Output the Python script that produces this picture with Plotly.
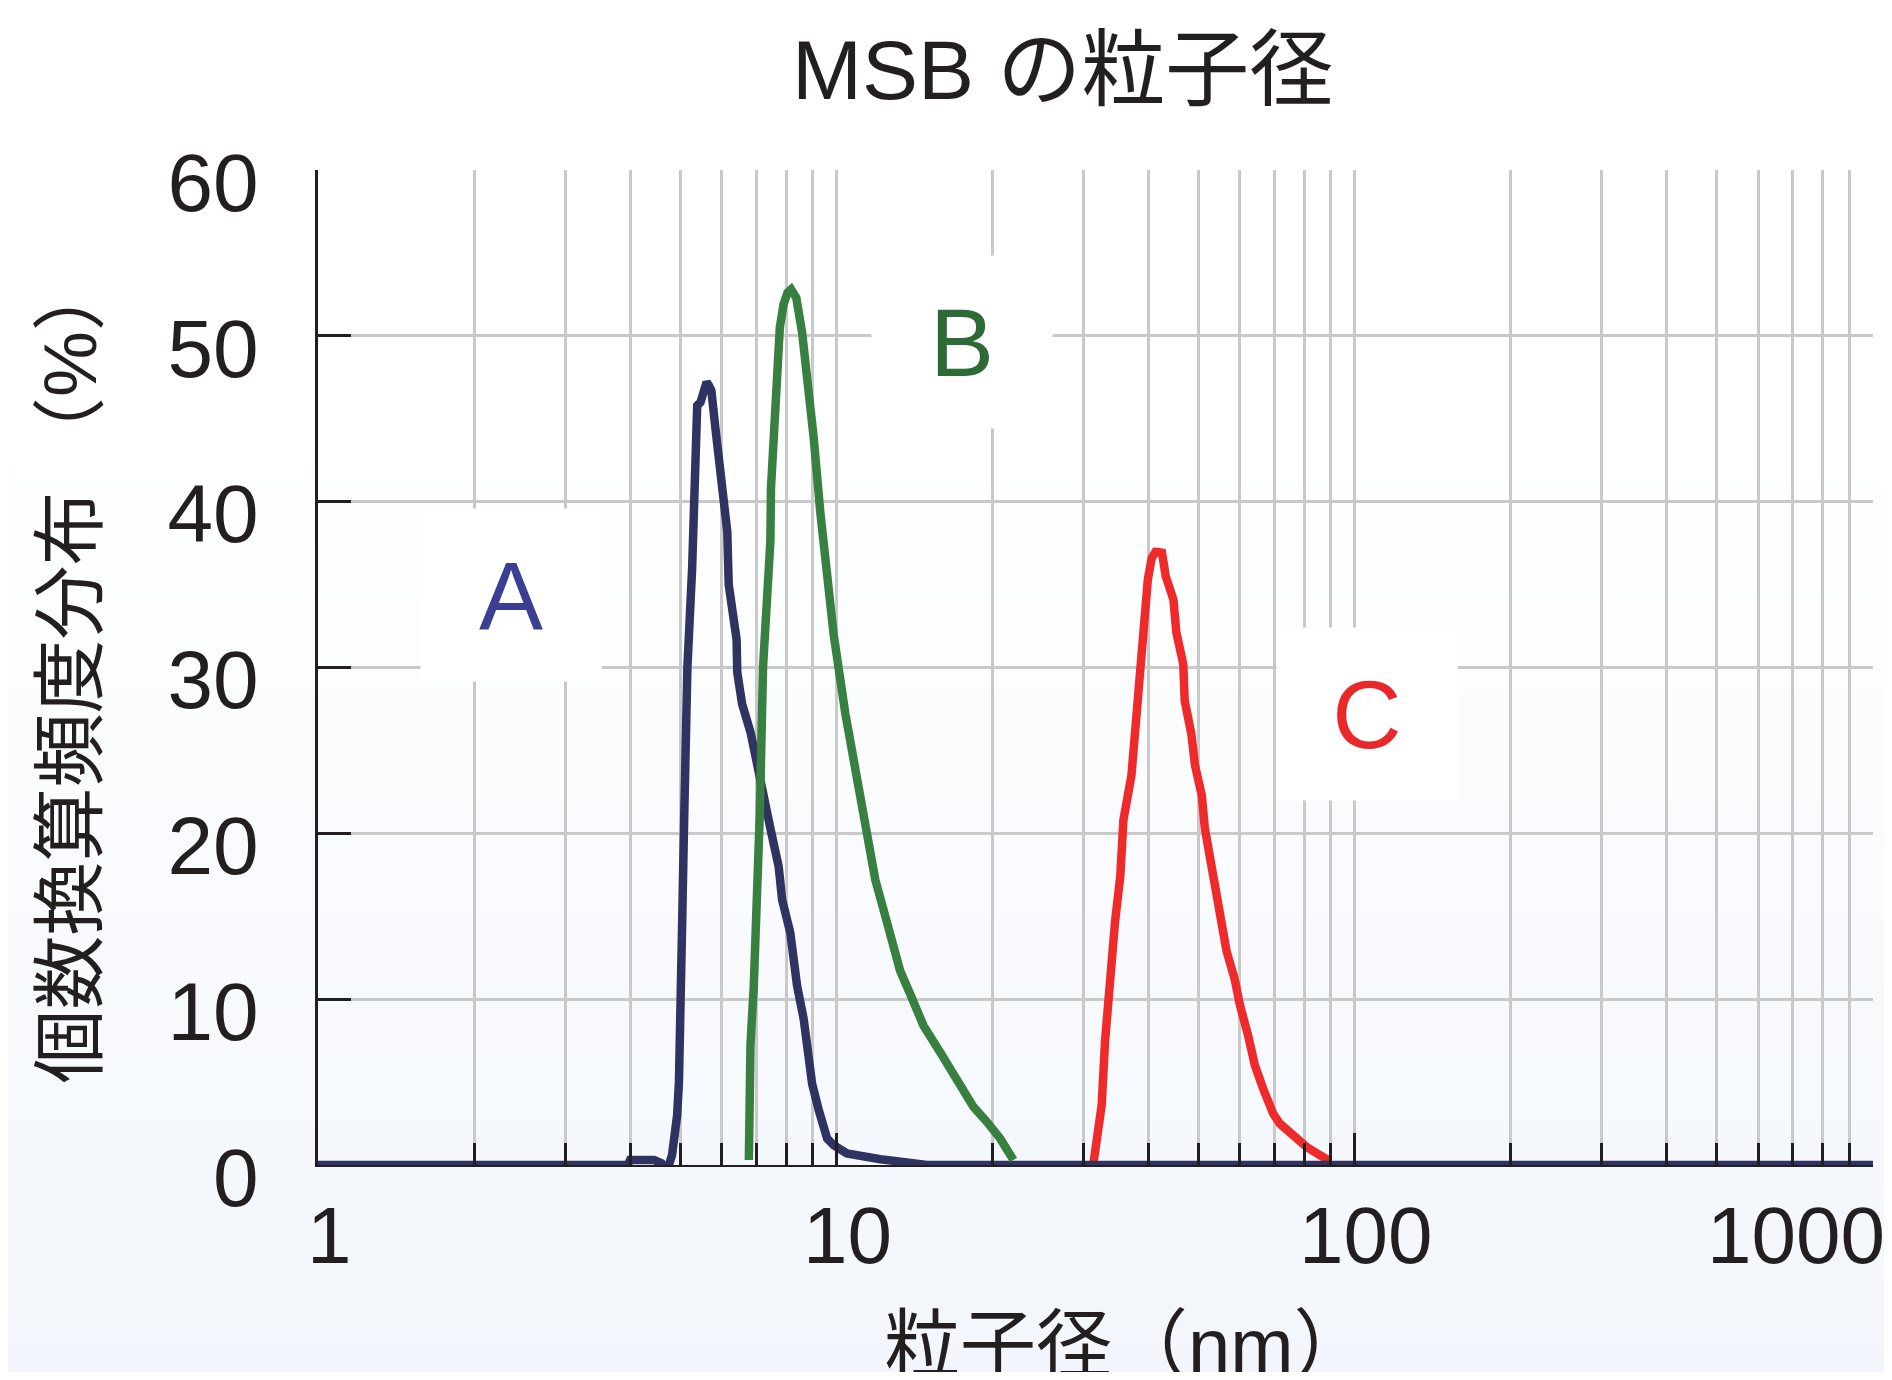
import numpy as np
import plotly.graph_objects as go

# ---------------- data ----------------
a_x = [1.0, 3.51, 3.96, 4.0, 4.45, 4.6, 4.72, 4.82, 4.93, 4.97, 5.01, 5.04, 5.08, 5.16, 5.27,
       5.35, 5.39, 5.47, 5.53, 5.62, 5.68, 5.74, 5.85, 6.02, 6.16, 6.20, 6.30, 6.42, 6.44, 6.58,
       6.83, 7.14, 7.46, 7.74, 7.86, 8.15, 8.40, 8.65, 8.98, 9.25, 9.60, 9.88, 10.48, 12.16,
       14.95, 100.0, 1000.0]
a_y = [0.0, 0.0, 0.0, 0.3, 0.3, 0.1, -0.3, 0.6, 3.0, 5.0, 8.5, 14.4, 20.0, 30.0, 36.0,
       41.8, 45.8, 46.0, 46.7, 47.2, 47.0, 46.7, 44.3, 40.5, 38.2, 35.0, 33.3, 31.7, 29.7, 27.8,
       26.1, 22.9, 20.3, 18.0, 16.0, 14.0, 10.8, 8.8, 4.9, 3.3, 1.6, 1.2, 0.7, 0.35,
       0.0, 0.0, 0.0]

b_x = [6.78, 6.83, 6.93, 7.03, 7.12, 7.22, 7.35, 7.46, 7.48, 7.57, 7.66, 7.69, 7.78, 7.91,
       8.05, 8.18, 8.37, 8.59, 8.78, 9.04, 9.31, 9.60, 9.88, 10.41, 10.80, 11.37, 11.89, 12.43,
       12.90, 13.28, 13.89, 14.73, 15.86, 17.08, 18.39, 19.52, 20.70, 21.96]
b_y = [0.3, 7.3, 10.8, 15.0, 21.3, 30.0, 33.4, 37.6, 40.8, 43.9, 46.7, 48.8, 50.5, 51.9,
       52.6, 52.8, 52.3, 50.2, 47.7, 43.9, 39.4, 35.5, 32.0, 27.2, 24.4, 20.9, 17.2, 15.0,
       13.1, 11.7, 10.3, 8.4, 6.8, 5.1, 3.5, 2.6, 1.6, 0.3]

c_x = [31.3, 32.5, 33.0, 33.7, 34.5, 35.3, 35.8, 37.1, 37.7, 38.5, 39.7, 39.9, 40.6, 41.5,
       41.9, 42.4, 43.2, 44.7, 45.3, 46.7, 47.0, 48.4, 49.2, 50.7, 51.4, 53.3, 55.0, 56.6,
       58.7, 60.0, 62.3, 64.2, 66.6, 69.6, 71.7, 76.1, 80.7, 85.6, 89.5]
c_y = [0.0, 3.6, 7.5, 11.7, 14.7, 17.4, 20.8, 23.5, 26.2, 30.2, 33.9, 35.3, 36.6, 37.1,
       36.8, 37.1, 35.5, 34.1, 32.1, 30.2, 28.0, 26.0, 24.1, 22.3, 20.3, 17.6, 15.4, 12.9,
       11.2, 9.7, 7.8, 6.0, 4.6, 3.1, 2.5, 1.8, 1.1, 0.6, 0.25]

y_ticks = [0, 10, 20, 30, 40, 50, 60]
x_tick_vals = [1, 10, 100, 1000]
x_tick_text = ["1", "10", "100", "1000"]

series_labels = ["A", "B", "C"]
label_x = [2.355, 17.49, 105.4]     # nm
label_y = [34.4, 49.6, 27.2]        # %

title_text = "MSB の粒子径"
x_title = "粒子径（nm）"
y_title = "個数換算頻度分布 （%）"

# ---------------- style ----------------
FONT = "Liberation Sans, Arial, Noto Sans CJK JP, sans-serif"
NAVY = "#2f3362"
GREEN = "#388040"
RED = "#ee2a2a"
GRID = "#c9c9c9"
INK = "#231f20"

# page body has an 8px default margin: figure is 1876x1364 placed at (8, 8)
W, H = 1876, 1364
L, T = 310, 162
PLOT_W, PLOT_H = 1555, 995.5
R = W - L - PLOT_W
B = H - T - PLOT_H

fig = go.Figure()
fig.add_trace(go.Scatter(x=c_x, y=c_y, mode="lines", line=dict(color=RED, width=8.5),
                         showlegend=False, hoverinfo="skip"))
fig.add_trace(go.Scatter(x=a_x, y=a_y, mode="lines", line=dict(color=NAVY, width=8.5),
                         showlegend=False, hoverinfo="skip"))
fig.add_trace(go.Scatter(x=b_x, y=b_y, mode="lines", line=dict(color=GREEN, width=8.5),
                         showlegend=False, hoverinfo="skip"))

# background vertical gradient (white -> very light blue)
shapes = []
n = 60
def px_to_paper(p):  # p: pixel y in figure coordinates
    return (T + PLOT_H - p) / PLOT_H
for i in range(n):
    p0 = H * i / n
    p1 = H * (i + 1) / n
    t = max(0.0, (p0 - 410.0) / (H - 410.0))
    r = int(round(255 + (242 - 255) * t))
    g = int(round(255 + (246 - 255) * t))
    b = int(round(255 + (252 - 255) * t))
    shapes.append(dict(type="rect", xref="paper", yref="paper", layer="below",
                       x0=-0.3, x1=1.1, y0=px_to_paper(p1) - 0.002, y1=px_to_paper(p0),
                       fillcolor=f"rgb({r},{g},{b})", line=dict(width=0)))

annotations = []
label_colors = ["#3a3f94", "#2d6a36", "#e8282b"]
for s, lx, ly, col in zip(series_labels, label_x, label_y, label_colors):
    annotations.append(dict(x=np.log10(lx), y=ly, xref="x", yref="y", text=s, showarrow=False,
                            font=dict(family=FONT, size=96, color=col),
                            bgcolor="white", width=178, height=170, xanchor="center",
                            yanchor="middle"))
for v, t in zip(x_tick_vals, x_tick_text):
    last = (v == x_tick_vals[-1])
    annotations.append(dict(x=np.log10(v), y=0, xref="x", yref="y", text=t, showarrow=False,
                            font=dict(family=FONT, size=80, color=INK),
                            xanchor="right" if last else "center", yanchor="middle",
                            xshift=14 if last else 11, yshift=-70))
annotations.append(dict(x=0.4788, y=1.101, xref="paper", yref="paper", text=title_text,
                        showarrow=False, font=dict(family=FONT, size=84, color=INK),
                        xanchor="center", yanchor="middle"))
annotations.append(dict(x=0.52, y=-0.181, xref="paper", yref="paper", text=x_title,
                        showarrow=False, font=dict(family=FONT, size=76, color=INK),
                        xanchor="center", yanchor="middle"))
annotations.append(dict(x=-0.1594, y=0.497, xref="paper", yref="paper", text=y_title,
                        showarrow=False, textangle=-90,
                        font=dict(family=FONT, size=74, color=INK),
                        xanchor="center", yanchor="middle"))

fig.update_layout(
    width=W, height=H,
    margin=dict(l=L, r=R, t=T, b=B, pad=0),
    paper_bgcolor="white", plot_bgcolor="rgba(0,0,0,0)",
    shapes=shapes, annotations=annotations,
    font=dict(family=FONT, color=INK),
)
fig.update_xaxes(
    type="log", range=[0, 3], dtick=1, showticklabels=False,
    ticks="inside", ticklen=32, tickwidth=3, tickcolor=INK,
    showgrid=True, gridcolor=GRID, gridwidth=2.5,
    showline=True, linecolor=INK, linewidth=2, zeroline=False,
    minor=dict(dtick="D1", ticks="inside", ticklen=22, tickwidth=3, tickcolor=INK,
               showgrid=True, gridcolor=GRID, gridwidth=2.5),
)
fig.update_yaxes(
    range=[0, 60], tickvals=y_ticks, ticktext=[str(v) for v in y_ticks],
    ticks="inside", ticklen=33, tickwidth=3, tickcolor=INK,
    tickfont=dict(family=FONT, size=82, color=INK),
    ticklabelstandoff=40, ticklabelshift=12,
    showgrid=True, gridcolor=GRID, gridwidth=2.5,
    showline=True, linecolor=INK, linewidth=3, zeroline=False,
)

fig.write_html("out.html")
